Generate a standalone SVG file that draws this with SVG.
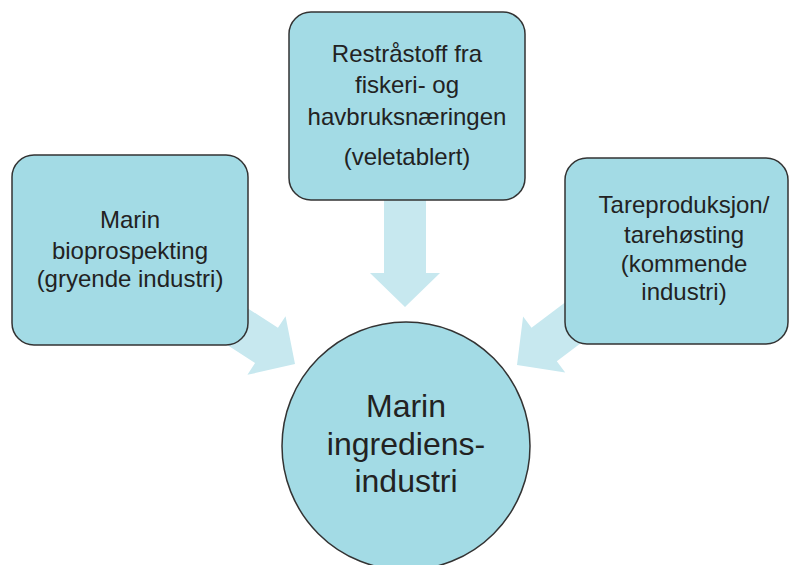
<svg xmlns="http://www.w3.org/2000/svg" width="789" height="565" viewBox="0 0 789 565">
<defs>
<style>
.box{fill:#a3dbe5;stroke:#333;stroke-width:1.5}
.arr{fill:#c7e8ef}
.t{font-family:"Liberation Sans",Arial,sans-serif;font-size:24px;fill:#222;text-anchor:middle}
.tc{font-family:"Liberation Sans",Arial,sans-serif;font-size:32px;fill:#222;text-anchor:middle}
</style>
<path id="arrowShape" d="M -110,-21 L -34,-21 L -34,-35 L 0,0 L -34,35 L -34,21 L -110,21 Z"/>
</defs>
<rect width="789" height="565" fill="#fff"/>
<g id="connectors">
<use href="#arrowShape" class="arr" transform="translate(405,307) rotate(90)"/>
<use href="#arrowShape" class="arr" transform="translate(295,364) rotate(33)"/>
<use href="#arrowShape" class="arr" transform="translate(517,365) rotate(143)"/>
</g>
<g id="node-top">
<rect class="box" x="289" y="12" width="236" height="188" rx="22"/>
<text class="t" x="407" y="62">Restråstoff fra</text>
<text class="t" x="407" y="93">fiskeri- og</text>
<text class="t" x="407" y="125">havbruksnæringen</text>
<text class="t" x="407" y="165">(veletablert)</text>
</g>
<g id="node-left">
<rect class="box" x="12" y="155" width="236" height="190" rx="22"/>
<text class="t" x="130" y="228">Marin</text>
<text class="t" x="130" y="259">bioprospekting</text>
<text class="t" x="130" y="287">(gryende industri)</text>
</g>
<g id="node-right">
<rect class="box" x="565" y="158" width="223" height="186" rx="22"/>
<text class="t" x="684" y="213">Tareproduksjon/</text>
<text class="t" x="684" y="243">tarehøsting</text>
<text class="t" x="684" y="272">(kommende</text>
<text class="t" x="684" y="300">industri)</text>
</g>
<g id="node-center">
<circle class="box" cx="406" cy="446" r="124"/>
<text class="tc" x="406" y="417">Marin</text>
<text class="tc" x="406" y="455">ingrediens-</text>
<text class="tc" x="406" y="492">industri</text>
</g>
</svg>
